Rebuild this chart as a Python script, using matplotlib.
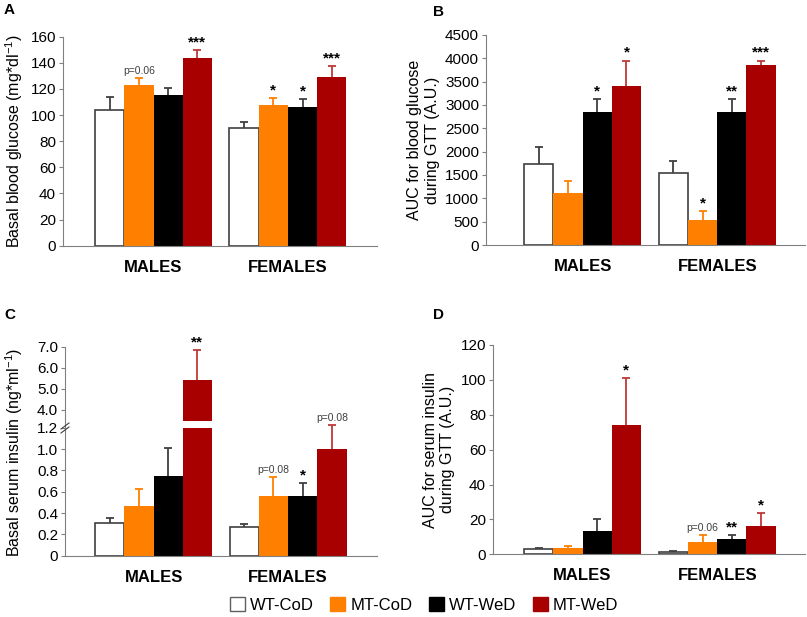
import matplotlib.pyplot as plt
from matplotlib.patches import Patch
from matplotlib.lines import Line2D

plt.rcParams['font.family'] = ['Liberation Sans', 'DejaVu Sans']
plt.rcParams['mathtext.default'] = 'regular'

groups = ['MALES', 'FEMALES']
series = ['WT-CoD', 'MT-CoD', 'WT-WeD', 'MT-WeD']
colors = ['white', '#ff8000', 'black', '#a80000']
err_colors = ['#404040', '#ff8000', '#404040', '#c03838']

# values per series: [males, females]
glu_mean = [[104, 90], [123, 108], [115, 106], [144, 129]]
glu_err = [[10, 5], [5, 5], [6, 6], [6, 8.5]]
glu_ann = [['', ''], ['p=0.06', '*'], ['', '*'], ['***', '***']]

auc_glu_mean = [[1740, 1550], [1120, 540], [2860, 2860], [3410, 3860]]
auc_glu_err = [[350, 260], [250, 180], [260, 260], [540, 90]]
auc_glu_ann = [['', ''], ['', '*'], ['*', '**'], ['*', '***']]

ins_mean = [[0.31, 0.27], [0.47, 0.56], [0.75, 0.56], [5.4, 1.0]]
ins_err = [[0.045, 0.025], [0.155, 0.18], [0.26, 0.12], [1.45, 0.23]]
ins_ann = [['', ''], ['', 'p=0.08'], ['', '*'], ['**', 'p=0.08']]

auc_ins_mean = [[2.9, 1.5], [3.6, 7.1], [13.6, 8.6], [74, 16]]
auc_ins_err = [[0.9, 0.2], [1.4, 4.0], [6.5, 2.5], [27, 7.4]]
auc_ins_ann = [['', ''], ['', 'p=0.06'], ['', '**'], ['*', '*']]

W, H = 807, 617
fig = plt.figure(figsize=(W / 100, H / 100), dpi=100)
gap = 0.6


def px_axes(left, top, right, bottom):
    return fig.add_axes([left / W, 1 - bottom / H, (right - left) / W, (bottom - top) / H])


def style(ax, xlim):
    for s in ['top', 'right']:
        ax.spines[s].set_visible(False)
    for s in ['left', 'bottom']:
        ax.spines[s].set_color('#808080')
    ax.tick_params(axis='y', length=3, color='#808080', labelsize=11, pad=2)
    ax.set_xlim(*xlim)


def draw_bars(ax, mean, err, ann, ann_off, clip=False):
    for i in range(4):
        xs = [g * (4 + gap) + i for g in range(2)]
        ax.bar(xs, mean[i], width=1, color=colors[i],
               edgecolor='#404040' if i == 0 else colors[i], linewidth=1.2 if i == 0 else 0)
        tops = [m + e for m, e in zip(mean[i], err[i])]
        eb = ax.errorbar(xs, mean[i], yerr=[[0, 0], err[i]], fmt='none', ecolor=err_colors[i],
                         elinewidth=1.3, capsize=3, capthick=1.3, clip_on=clip)
        eb[1][0].remove()  # no lower cap
        for x, t, a in zip(xs, tops, ann[i]):
            if not a:
                continue
            if a.startswith('p'):
                ax.text(x, t + ann_off * 0.6, a, ha='center', va='bottom', fontsize=7.5, color='#404040')
            else:
                ax.text(x, t + ann_off * 0.2, a, ha='center', va='bottom', fontsize=11, fontweight='bold')


def group_ticks(ax):
    ax.set_xticks([1.5, 1.5 + 4 + gap])
    ax.set_xticklabels(groups, fontsize=12, fontweight='bold')
    ax.tick_params(axis='x', length=0, pad=10)


# A
axA = px_axes(63, 36.7, 377, 245.7)
draw_bars(axA, glu_mean, glu_err, glu_ann, 3)
axA.set_ylim(0, 160)
axA.set_yticks(range(0, 161, 20))
style(axA, (-1.6, 9.15))
group_ticks(axA)
axA.set_ylabel('Basal blood glucose (mg*dl$^{-1}$)', fontsize=11.5, labelpad=4)

# B
axB = px_axes(486, 35, 805, 245)
draw_bars(axB, auc_glu_mean, auc_glu_err, auc_glu_ann, 80)
axB.set_ylim(0, 4500)
axB.set_yticks(range(0, 4501, 500))
style(axB, (-1.8, 9.1))
group_ticks(axB)
axB.set_ylabel('AUC for blood glucose\nduring GTT (A.U.)', fontsize=11.5, labelpad=4)

# C (broken axis)
axCl = px_axes(65, 427.7, 377, 555.7)
axCu = px_axes(65, 346.7, 377, 420.5)
axCu.patch.set_visible(False)
draw_bars(axCl, ins_mean, ins_err, [[''] * 2, ins_ann[1], ins_ann[2], ['', ins_ann[3][1]]], 0.02)
draw_bars(axCu, ins_mean, ins_err, [[''] * 2, [''] * 2, [''] * 2, [ins_ann[3][0], '']], 0.1, clip=True)
axCl.set_ylim(0, 1.2)
axCl.set_yticks([0, 0.2, 0.4, 0.6, 0.8, 1.0, 1.2])
axCl.set_yticklabels(['0', '0.2', '0.4', '0.6', '0.8', '1.0', '1.2'])
axCu.set_ylim(3.5, 7.0)
axCu.set_yticks([4.0, 5.0, 6.0, 7.0])
axCu.set_yticklabels(['4.0', '5.0', '6.0', '7.0'])
style(axCl, (-1.53, 9.14))
style(axCu, (-1.53, 9.14))
axCu.spines['bottom'].set_visible(False)
axCu.set_xticks([])
group_ticks(axCl)
fig.add_artist(Line2D([65 / W, 65 / W], [1 - 427.7 / H, 1 - 420.5 / H], color='#808080', lw=0.8))
for dy in (-2, 2):
    fig.add_artist(Line2D([61 / W, 69 / W], [1 - (428 + dy + 3) / H, 1 - (428 + dy - 3) / H],
                          color='#404040', lw=0.8))
fig.text(14 / W, 1 - 452 / H, 'Basal serum insulin (ng*ml$^{-1}$)', rotation=90,
         ha='center', va='center', fontsize=11.5)

# D
axD = px_axes(493, 345, 805, 554.3)
draw_bars(axD, auc_ins_mean, auc_ins_err, auc_ins_ann, 2)
axD.set_ylim(0, 120)
axD.set_yticks(range(0, 121, 20))
style(axD, (-1.56, 9.1))
group_ticks(axD)
axD.set_ylabel('AUC for serum insulin\nduring GTT (A.U.)', fontsize=11.5, labelpad=4)

# panel letters
for lbl, x, y in [('A', 4, 10), ('B', 433, 12), ('C', 4, 315), ('D', 433, 315)]:
    fig.text(x / W, 1 - y / H, lbl, fontsize=11, fontweight='bold', va='center')

handles = [Patch(facecolor=c, edgecolor='#606060' if c == 'white' else c, lw=1) for c in colors]
fig.legend(handles, series, loc='center', bbox_to_anchor=(424 / W, 1 - 605 / H), ncol=4,
           frameon=False, fontsize=12, handlelength=0.9, handleheight=0.9,
           handletextpad=0.3, columnspacing=1.0)

fig.savefig('out.png', dpi=100)
